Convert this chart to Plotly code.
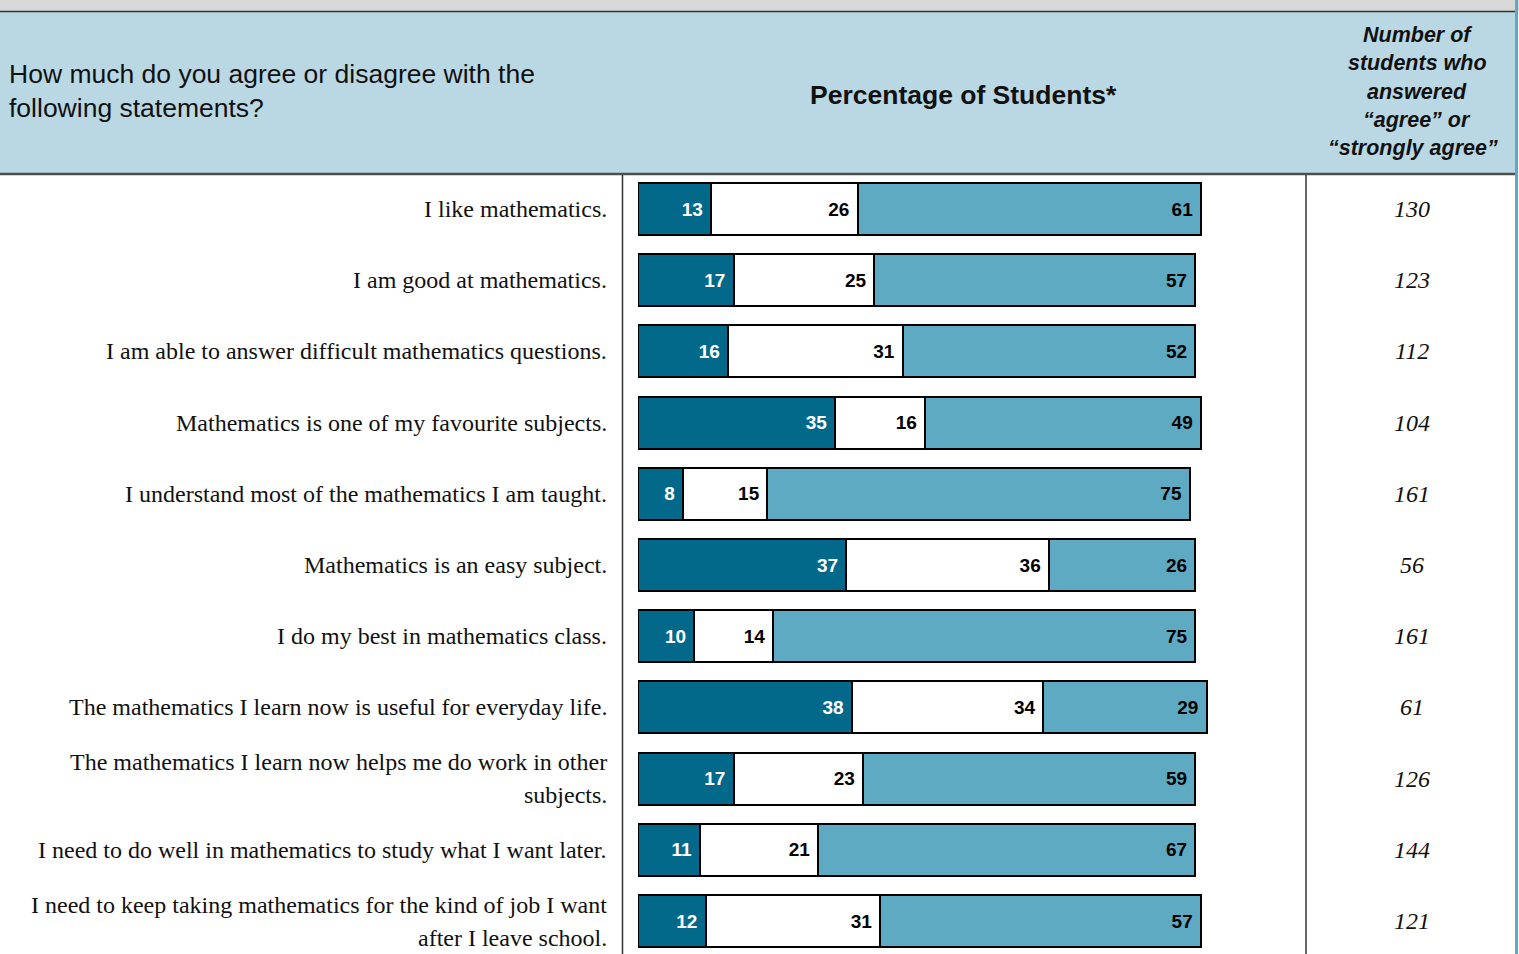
import plotly.graph_objects as go

W, H = 1519, 954

statements = [
    "I like mathematics.",
    "I am good at mathematics.",
    "I am able to answer difficult mathematics questions.",
    "Mathematics is one of my favourite subjects.",
    "I understand most of the mathematics I am taught.",
    "Mathematics is an easy subject.",
    "I do my best in mathematics class.",
    "The mathematics I learn now is useful for everyday life.",
    "The mathematics I learn now helps me do work in other<br>subjects.",
    "I need to do well in mathematics to study what I want later.",
    "I need to keep taking mathematics for the kind of job I want<br>after I leave school.",
]
# percentages: disagree / neither / agree
pct_disagree = [13, 17, 16, 35, 8, 37, 10, 38, 17, 11, 12]
pct_middle = [26, 25, 31, 16, 15, 36, 14, 34, 23, 21, 31]
pct_agree = [61, 57, 52, 49, 75, 26, 75, 29, 59, 67, 57]
n_agree = [130, 123, 112, 104, 161, 56, 161, 61, 126, 144, 121]

DARK = "#02698a"
LIGHT = "#5eaac3"
HEADER = "#b9d8e3"
SANS = "Liberation Sans, Arial, sans-serif"
SERIF = "Liberation Serif, Times New Roman, serif"


def px(x):
    return x / W


def py(y):
    return 1 - y / H


# row geometry (pixels)
ROW0, PITCH = 209, 71.2
BAR_X0, PX_PER_PCT = 638, 5.63
TOP = 174

rows = list(range(len(statements)))

fig = go.Figure()
for vals, col, tcol in [(pct_disagree, DARK, "white"),
                        (pct_middle, "white", "black"),
                        (pct_agree, LIGHT, "black")]:
    fig.add_trace(go.Bar(
        x=vals, y=rows, orientation="h",
        marker=dict(color=col, line=dict(color="black", width=2)),
        width=52 / PITCH,
        text=vals, texttemplate="<b>%{text}</b>\u00a0",
        textposition="inside", insidetextanchor="end",
        textfont=dict(family=SANS, size=19, color=tcol),
        hoverinfo="skip", showlegend=False,
    ))

xr = 102
fig.update_layout(
    width=W, height=H, barmode="stack",
    margin=dict(l=0, r=0, t=0, b=0),
    paper_bgcolor="white", plot_bgcolor="rgba(0,0,0,0)",
    uniformtext=dict(mode="show", minsize=19),
    xaxis=dict(domain=[px(BAR_X0), px(BAR_X0 + xr * PX_PER_PCT)], range=[0, xr],
               visible=False, fixedrange=True),
    yaxis=dict(domain=[0, py(TOP)],
               range=[(H - ROW0) / PITCH, (TOP - ROW0) / PITCH],
               visible=False, fixedrange=True),
)

shapes = [
    dict(type="rect", xref="paper", yref="paper", x0=0, x1=1, y0=py(0), y1=py(11),
         fillcolor="#d9d9d9", line_width=0, layer="below"),
    dict(type="rect", xref="paper", yref="paper", x0=0, x1=px(1515), y0=py(12), y1=py(TOP),
         fillcolor=HEADER, line_width=0, layer="below"),
    dict(type="line", xref="paper", yref="paper", x0=0, x1=px(1515), y0=py(11.5), y1=py(11.5),
         line=dict(color="#333333", width=1.5)),
    dict(type="line", xref="paper", yref="paper", x0=0, x1=px(1515), y0=py(174), y1=py(174),
         line=dict(color="#4d4d4d", width=2.5)),
    dict(type="line", xref="paper", yref="paper", x0=px(622.5), x1=px(622.5), y0=py(175), y1=0,
         line=dict(color="#333333", width=1.5)),
    dict(type="line", xref="paper", yref="paper", x0=px(1306), x1=px(1306), y0=py(175), y1=0,
         line=dict(color="#333333", width=1.5)),
    dict(type="line", xref="paper", yref="paper", x0=px(1516.5), x1=px(1516.5), y0=1, y1=0,
         line=dict(color="#5fa8c0", width=3)),
]

ann = [
    dict(text="How much do you agree or disagree with the<br>following statements?",
         x=px(7), y=py(91), xanchor="left", yanchor="middle", align="left",
         font=dict(family=SANS, size=26.5, color="#111")),
    dict(text="<b>Percentage of Students*</b>",
         x=px(963), y=py(95), xanchor="center", yanchor="middle",
         font=dict(family=SANS, size=26.5, color="#111")),
]

right_head = ["Number of", "students who", "answered",
              "\u201cagree\u201d or", "\u201cstrongly agree\u201d"]
for k, line in enumerate(right_head):
    ann.append(dict(text=f"<b><i>{line}</i></b>", x=px(1417 if k < 4 else 1413),
                    y=py(35 + k * 28.3), xanchor="center", yanchor="middle",
                    font=dict(family=SANS, size=21.5, color="#111")))

for i, (s, n) in enumerate(zip(statements, n_agree)):
    yc = ROW0 + i * PITCH
    lines = s.split("<br>")
    lh = 33
    for k, line in enumerate(lines):
        yl = yc + (k - (len(lines) - 1) / 2) * lh
        ann.append(dict(text=line, x=px(609), y=py(yl), xanchor="right", yanchor="middle",
                        font=dict(family=SERIF, size=24, color="#111")))
    ann.append(dict(text=f"<i>{n}</i>", x=px(1412), y=py(yc), xanchor="center", yanchor="middle",
                    font=dict(family=SERIF, size=24, color="#111")))

for a in ann:
    a.update(xref="paper", yref="paper", showarrow=False)

fig.update_layout(shapes=shapes, annotations=ann)
fig.write_html("out.html", config={"displayModeBar": False},
               post_script="document.body.style.margin='0';document.body.style.overflow='hidden';")
